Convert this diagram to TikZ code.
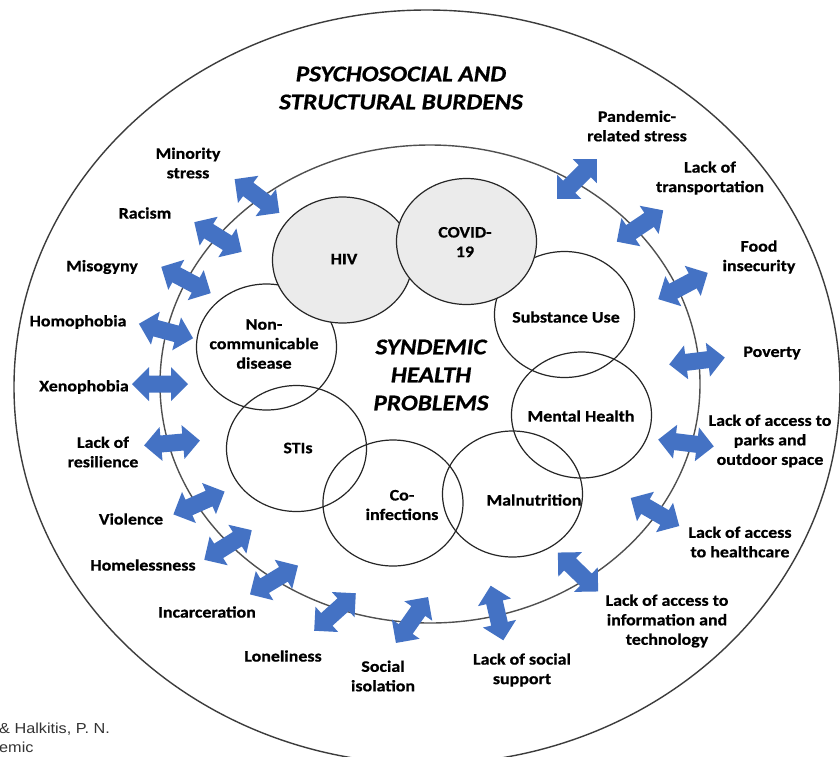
\documentclass[tikz,border=0pt]{standalone}
\usepackage{fontspec}
\usetikzlibrary{shapes.geometric}
\newfontfamily\lblfont[FakeStretch=1.12, BoldFeatures={FakeBold=0.7}, BoldItalicFeatures={FakeBold=0.7}]{Carlito}
\newfontfamily\citefont[FakeStretch=1.12]{Liberation Sans}
\definecolor{arrowblue}{HTML}{4472C4}
\definecolor{diseasegray}{HTML}{EBEBEB}
\definecolor{ringgray}{HTML}{505050}
\definecolor{outergray}{HTML}{3C3C3C}
\tikzset{
 lbl/.style={font=\lblfont\bfseries\fontsize{16}{19.5}\selectfont, align=center, inner sep=0},
 ttl/.style={font=\lblfont\bfseries\itshape\fontsize{22.5}{28}\selectfont, align=center, inner sep=0},
 dis/.style={ellipse, draw=black!85, line width=1.2pt, minimum width=140pt, minimum height=126pt, inner sep=0},
 hl/.style={dis, fill=diseasegray},
 barrow/.pic={\fill[arrowblue] (-28,0) -- (-11,17) -- (-11,8.5) -- (11,8.5) -- (11,17) -- (28,0)
     -- (11,-17) -- (11,-8.5) -- (-11,-8.5) -- (-11,-17) -- cycle;},
 cite/.style={font=\citefont\fontsize{14.5}{18}\selectfont, text=black!80, inner sep=0, anchor=base west},
}
\begin{document}
\begin{tikzpicture}[x=1pt,y=-1pt]
\useasboundingbox (0,0) rectangle (840,756);
\fill[white] (0,0) rectangle (840,756);
% outer frame and ring
\node[ellipse, draw=outergray, line width=1.4pt, minimum width=826pt, minimum height=754pt, inner sep=0] (outer) at (427,387) {};
\node[ellipse, draw=ringgray, line width=1.4pt, minimum width=540pt, minimum height=478pt, inner sep=0] (ring) at (430,384) {};
% disease circles
\node[dis] (noncomm) at (266.5,347) {};
\node[dis] (substance) at (564.5,314.5) {};
\node[dis] (mental) at (581.5,415) {};
\node[dis] (stis) at (296.5,448.5) {};
\node[dis] (coinf) at (393,503) {};
\node[dis] (malnut) at (512.5,494) {};
\node[hl] (hiv) at (342.5,260) {};
\node[hl] (covid) at (466.5,241.5) {};
% circle labels
\node[lbl] (thiv) at (344,259) {HIV};
\node[lbl] (tcovid) at (465,242) {COVID-\\19};
\node[lbl] (tnoncomm) at (264,344) {Non-\\communicable\\disease};
\node[lbl] (tsubst) at (566,317) {Substance Use};
\node[lbl] (tmental) at (581,416) {Mental Health};
\node[lbl] (tstis) at (298,448) {STIs};
\node[lbl] (tcoinf) at (402,505) {Co-\\infections};
\node[lbl] (tmalnut) at (534,500) {Malnutrition};
% titles
\node[ttl] (title) at (401,88) {PSYCHOSOCIAL AND\\STRUCTURAL BURDENS};
\node[ttl] (syndemic) at (431,375) {SYNDEMIC\\HEALTH\\PROBLEMS};
% arrows on the ring
\pic[rotate=-37] (a1) at (257,196) {barrow};
\pic[rotate=-32] (a2) at (218,237) {barrow};
\pic[rotate=-28] (a3) at (186,280) {barrow};
\pic[rotate=-15] (a4) at (166,331) {barrow};
\pic[rotate=0] (a5) at (160,384) {barrow};
\pic[rotate=5] (a6) at (172,443) {barrow};
\pic[rotate=24] (a7) at (199,503) {barrow};
\pic[rotate=32] (a8) at (228,545) {barrow};
\pic[rotate=31] (a9) at (274,580) {barrow};
\pic[rotate=42] (a10) at (335,612) {barrow};
\pic[rotate=55] (a11) at (412,620) {barrow};
\pic[rotate=103] (a12) at (497,613) {barrow};
\pic[rotate=-44] (a13) at (578,572) {barrow};
\pic[rotate=-30] (a14) at (655,512) {barrow};
\pic[rotate=-7] (a15) at (686,443) {barrow};
\pic[rotate=7] (a16) at (697,361) {barrow};
\pic[rotate=28] (a17) at (683,286) {barrow};
\pic[rotate=34] (a18) at (640,226) {barrow};
\pic[rotate=45] (a19) at (577,179) {barrow};
% burden labels
\node[lbl] (l1) at (188,163) {Minority\\stress};
\node[lbl] (l2) at (145,213) {Racism};
\node[lbl] (l3) at (102,267) {Misogyny};
\node[lbl] (l4) at (78,322) {Homophobia};
\node[lbl] (l5) at (84,387) {Xenophobia};
\node[lbl] (l6) at (103,452) {Lack of\\resilience};
\node[lbl] (l7) at (131,519) {Violence};
\node[lbl] (l8) at (143,565) {Homelessness};
\node[lbl] (l9) at (207,612) {Incarceration};
\node[lbl] (l10) at (283,656) {Loneliness};
\node[lbl] (l11) at (383,676) {Social\\isolation};
\node[lbl] (l12) at (522,670) {Lack of social\\support};
\node[lbl] (l13) at (667,621) {Lack of access to\\information and\\technology};
\node[lbl] (l14) at (740,542) {Lack of access\\to healthcare};
\node[lbl] (l15) at (770,441) {Lack of access to\\parks and\\outdoor space};
\node[lbl] (l16) at (772,353) {Poverty};
\node[lbl] (l17) at (759,257) {Food\\insecurity};
\node[lbl] (l18) at (710,178) {Lack of\\transportation};
\node[lbl] (l19) at (637,126) {Pandemic-\\related stress};
% citation fragment
\node[cite] (c1) at (-1,733) {\& Halkitis, P. N.};
\node[cite] (c2) at (-1,752) {emic};
\end{tikzpicture}
\end{document}
